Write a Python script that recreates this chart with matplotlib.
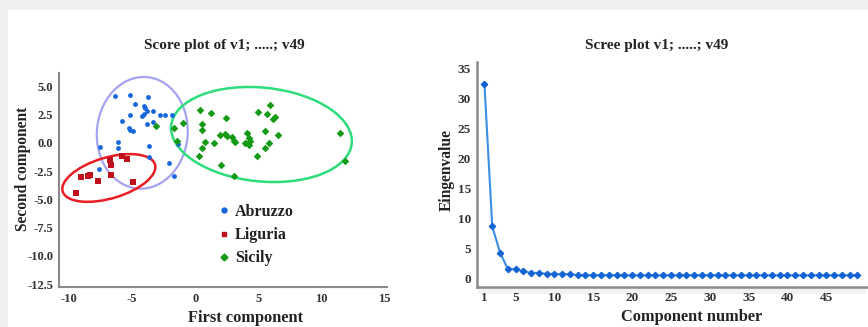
import matplotlib
matplotlib.use("Agg")
import matplotlib.pyplot as plt
from matplotlib.patches import Ellipse, Rectangle
from matplotlib.lines import Line2D

plt.rcParams['font.family'] = ['Liberation Serif', 'DejaVu Serif']
plt.rcParams['font.weight'] = 'bold'

# ---------------- data ----------------
abruzzo_x = [-6.35, -5.16, -3.73, -4.76, -4.10, -3.97, -3.83, -4.10, -4.21, -3.31,
             -2.78, -2.36, -1.85, -5.21, -5.82, -3.79, -3.31, -5.29, -5.16, -4.96,
             -7.54, -6.09, -6.09, -3.65, -3.63, -1.33, -2.12, -7.63, -1.72]
abruzzo_y = [4.15, 4.21, 4.04, 3.42, 3.29, 3.11, 2.83, 2.59, 2.39, 2.87,
             2.52, 2.52, 2.52, 2.52, 1.96, 1.67, 1.84, 1.36, 1.17, 1.03,
             -0.38, 0.11, -0.46, -0.29, -1.25, -0.13, -1.77, -2.32, -2.89]

liguria_x = [-9.44, -9.07, -8.47, -8.33, -7.67, -6.75, -6.67, -6.67, -5.79, -5.40, -4.94]
liguria_y = [-4.39, -3.03, -2.92, -2.87, -3.33, -1.55, -1.99, -2.81, -1.18, -1.45, -3.45]

sicily_x = [0.40, 1.21, 2.42, 0.53, 0.53, -0.99, -1.67, -3.10, -1.43, 0.75,
            0.53, 0.26, 1.45, 1.98, 2.38, 2.52, 2.91, 3.04, 3.17, 4.10,
            4.23, 4.37, 3.97, 4.23, 4.90, 5.53, 5.85, 5.56, 6.59, 4.94,
            5.67, 5.95, 6.29, 6.17, 11.45, 11.85, 2.06, 3.04]
sicily_y = [2.89, 2.63, 2.25, 1.71, 1.14, 1.75, 1.29, 1.49, 0.16, 0.06,
            -0.46, -1.11, 0.00, 0.75, 0.83, 0.64, 0.57, 0.20, 0.06, 0.92,
            0.48, 0.20, -0.04, -0.22, -1.11, 1.08, -0.04, -0.46, 0.70, 2.72,
            2.54, 3.33, 2.32, 2.11, 0.86, -1.60, -1.93, -2.89]

groups = ['Abruzzo', 'Liguria', 'Sicily']

components = list(range(1, 50))
eigenvalues = [32.4, 8.7, 4.3, 1.6, 1.5, 1.2, 0.9, 0.9, 0.75, 0.75,
               0.7, 0.68, 0.55, 0.52, 0.5, 0.5, 0.52, 0.5, 0.5, 0.5,
               0.5, 0.5, 0.5, 0.5, 0.52, 0.5, 0.5, 0.5, 0.5, 0.5,
               0.5, 0.5, 0.5, 0.5, 0.5, 0.52, 0.5, 0.5, 0.5, 0.5,
               0.5, 0.5, 0.5, 0.5, 0.5, 0.5, 0.5, 0.5, 0.5]

score_xticks = [-10, -5, 0, 5, 10, 15]
score_yticks = [5.0, 2.5, 0.0, -2.5, -5.0, -7.5, -10.0, -12.5]
scree_xticks = [1, 5, 10, 15, 20, 25, 30, 35, 40, 45]
scree_yticks = [0, 5, 10, 15, 20, 25, 30, 35]

# ---------------- figure ----------------
W, H = 868, 327
fig = plt.figure(figsize=(W / 100, H / 100), dpi=100)
fig.patch.set_facecolor('white')
bg = '#eef0ef'
fig.patches.append(Rectangle((0, 1 - 10 / H), 1, 10 / H, transform=fig.transFigure,
                             facecolor=bg, edgecolor='none', zorder=-10))
fig.patches.append(Rectangle((0, 0), 8 / W, 1, transform=fig.transFigure,
                             facecolor=bg, edgecolor='none', zorder=-10))
# faint band under the scree x axis
fig.patches.append(Rectangle((478 / W, 1 - 294 / H), (866 - 478) / W, 7 / H,
                             transform=fig.transFigure, facecolor='#f2f2f2',
                             edgecolor='none', zorder=-9))

def px_axes(x0, y0, x1, y1):
    return fig.add_axes([x0 / W, 1 - y1 / H, (x1 - x0) / W, (y1 - y0) / H])

tick_color = '#333333'
spine_color = '#8a8a8a'
text_color = '#222222'

# ---- left: score plot ----
ax = px_axes(59, 73, 387, 287)
ax.set_xlim(-10.8, 15.2)
ax.set_ylim(-12.76, 6.2)

blue, red, green = '#1666dc', '#c0101e', '#159a15'
ax.scatter(abruzzo_x, abruzzo_y, s=12, marker='o', color=blue, zorder=3, linewidths=0)
ax.scatter(liguria_x, liguria_y, s=14, marker='s', color=red, zorder=3, linewidths=0)
ax.scatter(sicily_x, sicily_y, s=15, marker='D', color=green, zorder=3, linewidths=0)

ax.add_patch(Ellipse((-4.2, 0.9), 7.2, 9.9, angle=-3, fill=False, edgecolor='#a6a2f2', lw=1.6))
ax.add_patch(Ellipse((-6.85, -3.1), 7.7, 3.6, angle=19, fill=False, edgecolor='#ea1c24', lw=1.8))
ax.add_patch(Ellipse((5.25, 0.75), 14.4, 8.3, angle=-7, fill=False, edgecolor='#2edc7a', lw=1.8))

ax.set_xticks(score_xticks)
ax.set_xticklabels([str(v) for v in score_xticks])
ax.set_yticks(score_yticks)
ax.set_yticklabels([f"{v:.1f}" for v in score_yticks])
for s in ['top', 'right']:
    ax.spines[s].set_visible(False)
for s in ['left', 'bottom']:
    ax.spines[s].set_color(spine_color)
    ax.spines[s].set_linewidth(1.5)
ax.tick_params(length=0, labelsize=9, colors=tick_color, pad=4)
for lab in ax.get_xticklabels() + ax.get_yticklabels():
    lab.set_fontweight('bold')

ax.set_xlabel('First component', fontsize=11.8, fontweight='bold', color=text_color)
ax.xaxis.set_label_coords((246 - 59) / 328, -(310 - 287) / 214)
ax.set_ylabel('Second component', fontsize=11.2, fontweight='bold', color=text_color)
ax.yaxis.set_label_coords(-(59 - 31) / 328, (287 - 169) / 214)

handles = [Line2D([], [], marker='o', ls='none', color=blue, ms=3.5),
           Line2D([], [], marker='s', ls='none', color=red, ms=3.5),
           Line2D([], [], marker='D', ls='none', color=green, ms=3.5)]
leg = ax.legend(handles, groups, loc='upper left',
                bbox_to_anchor=((219 - 59) / 328, (287 - 204) / 214),
                frameon=False, prop={'family': ['Liberation Serif'], 'weight': 'bold', 'size': 11.5},
                handlelength=0.6, handletextpad=0.4, labelspacing=0.45, borderpad=0, borderaxespad=0)
for t in leg.get_texts():
    t.set_color(text_color)

fig.text(224 / W, 1 - 45 / H, 'Score plot of v1; .....; v49', ha='center', va='center',
         fontsize=11, fontweight='bold', color=text_color)

# ---- right: scree plot ----
ax2 = px_axes(476.7, 61.7, 866.7, 286.7)
ax2.set_xlim(0, 50.2)
ax2.set_ylim(-1.4, 36.2)
ax2.plot(components, eigenvalues, color='#3a8ee6', lw=1.5, marker='D', ms=3.2,
         mfc='#1664d4', mec='#1664d4', zorder=3)
ax2.set_xticks(scree_xticks)
ax2.set_xticklabels([str(v) for v in scree_xticks])
ax2.set_yticks(scree_yticks)
ax2.set_yticklabels([str(v) for v in scree_yticks])
for s in ['top', 'right']:
    ax2.spines[s].set_visible(False)
for s in ['left', 'bottom']:
    ax2.spines[s].set_color(spine_color)
    ax2.spines[s].set_linewidth(1.8)
ax2.tick_params(length=0, labelsize=9.5, colors=tick_color, pad=4)
for lab in ax2.get_xticklabels() + ax2.get_yticklabels():
    lab.set_fontweight('bold')
ax2.set_xlabel('Component number', fontsize=11.8, fontweight='bold', color=text_color)
ax2.xaxis.set_label_coords((691.7 - 476.7) / 390, -(309 - 286.7) / 225)
ax2.set_ylabel('Eingenvalue', fontsize=11.2, fontweight='bold', color=text_color)
ax2.yaxis.set_label_coords(-(476.7 - 455) / 390, (286.7 - 170) / 225)

fig.text(656.7 / W, 1 - 45 / H, 'Scree plot v1; .....; v49', ha='center', va='center',
         fontsize=11, fontweight='bold', color=text_color)

fig.savefig('out.png', dpi=100, facecolor=fig.get_facecolor())
